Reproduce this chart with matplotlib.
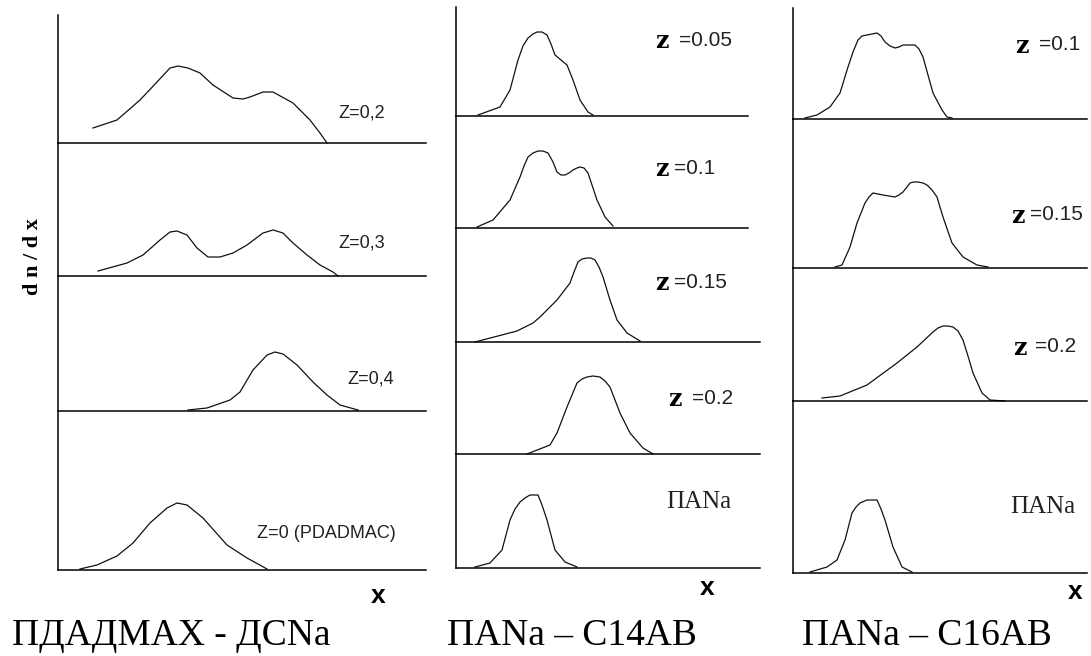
import matplotlib
matplotlib.use("Agg")
import matplotlib.pyplot as plt

plt.rcParams['font.family'] = ['Liberation Sans', 'DejaVu Sans']

W, H = 1091, 656

# --- panel A: ПДАДМАХ - ДСNa (x, dn/dx in a.u.) ---
a_labels = ["Z=0,2", "Z=0,3", "Z=0,4", "Z=0 (PDADMAC)"]
a_z02_x = [35, 59, 82, 99, 112, 120, 130, 142, 155, 175, 185, 192, 205, 215, 235, 252, 262, 269]
a_z02_y = [15, 23, 43, 61, 75, 77, 75, 70, 58, 45, 44, 46, 51, 51, 40, 23, 10, 0]
a_z03_x = [40, 69, 85, 102, 112, 119, 129, 139, 150, 162, 175, 189, 205, 215, 225, 235, 249, 262, 275, 280]
a_z03_y = [5, 13, 21, 36, 44, 45, 41, 28, 19, 19, 23, 31, 43, 46, 43, 33, 21, 11, 4, 0]
a_z04_x = [130, 149, 172, 182, 195, 209, 217, 225, 239, 255, 269, 282, 300]
a_z04_y = [1, 3, 11, 19, 41, 56, 59, 57, 46, 29, 16, 6, 1]
a_z0_x = [22, 39, 59, 75, 92, 109, 119, 129, 145, 169, 189, 209]
a_z0_y = [1, 5, 14, 27, 47, 62, 67, 65, 52, 25, 12, 1]

# --- panel B: ПАNa – C14AB ---
b_labels = ["0.05", "0.1", "0.15", "0.2", "ПАNa"]
b_z005_x = [22, 44, 54, 62, 67, 72, 77, 81, 86, 91, 95, 99, 105, 111, 117, 124, 132, 137]
b_z005_y = [1, 9, 26, 56, 70, 78, 82, 84, 84, 81, 72, 61, 56, 51, 36, 16, 4, 1]
b_z01_x = [21, 37, 54, 64, 68, 72, 77, 82, 87, 92, 97, 101, 105, 109, 113, 117, 121, 124, 128, 132, 141, 149, 157]
b_z01_y = [1, 8, 28, 51, 62, 71, 75, 77, 77, 75, 66, 56, 53, 53, 55, 58, 60, 61, 60, 55, 28, 11, 2]
b_z015_x = [19, 61, 77, 84, 101, 114, 118, 122, 126, 131, 135, 139, 143, 147, 154, 161, 171, 184]
b_z015_y = [0, 11, 19, 25, 42, 59, 70, 80, 83, 84, 84, 82, 75, 65, 42, 22, 9, 1]
b_z02_x = [71, 94, 101, 111, 121, 126, 131, 137, 144, 149, 154, 164, 174, 187, 197]
b_z02_y = [0, 9, 21, 47, 71, 75, 77, 78, 77, 73, 67, 41, 21, 6, 0]
b_pana_x = [19, 34, 46, 54, 59, 64, 69, 74, 82, 86, 91, 99, 109, 121]
b_pana_y = [1, 5, 18, 48, 59, 66, 70, 73, 73, 63, 48, 18, 6, 1]

# --- panel C: ПАNa – C16AB ---
c_labels = ["0.1", "0.15", "0.2", "ПАNa"]
c_z01_x = [12, 24, 37, 47, 55, 60, 65, 69, 74, 79, 84, 88, 92, 97, 102, 106, 110, 116, 122, 126, 130, 140, 149, 154, 159]
c_z01_y = [1, 4, 12, 26, 52, 67, 79, 83, 84, 85, 86, 83, 77, 73, 71, 72, 74, 74, 74, 70, 62, 26, 9, 2, 1]
c_z015_x = [42, 49, 57, 64, 72, 76, 80, 85, 90, 96, 102, 106, 110, 114, 117, 121, 125, 130, 134, 139, 144, 150, 159, 170, 184, 195]
c_z015_y = [1, 3, 21, 45, 65, 71, 75, 74, 73, 72, 71, 73, 76, 81, 85, 86, 86, 85, 83, 78, 71, 51, 25, 11, 3, 1]
c_z02_x = [29, 47, 74, 104, 124, 140, 145, 150, 155, 160, 165, 170, 175, 180, 189, 197, 212]
c_z02_y = [3, 5, 16, 38, 54, 69, 73, 75, 75, 74, 70, 61, 45, 28, 8, 1, 0]
c_pana_x = [17, 34, 44, 52, 59, 63, 67, 74, 84, 88, 92, 100, 109, 119]
c_pana_y = [1, 6, 13, 33, 60, 66, 70, 73, 73, 64, 53, 26, 6, 1]

titles = ["ПДАДМАХ - ДСNa", "ПАNa – С14АВ", "ПАNa – С16АВ"]


def px(x, y):
    return x / W, 1 - y / H


def draw_panel(fig, left, right, top, baselines, curves, line_ends=None):
    """Stack of strips sharing the vertical axis; one curve per strip."""
    edges = [top] + baselines
    axes = []
    for i, (xs, ys) in enumerate(curves):
        t, b = edges[i], edges[i + 1]
        ax = fig.add_axes([left / W, 1 - b / H, (right - left) / W, (b - t) / H])
        ax.set_xlim(0, right - left)
        ax.set_ylim(0, b - t)
        for s in ('top', 'right'):
            ax.spines[s].set_visible(False)
        for s in ('left', 'bottom'):
            ax.spines[s].set_linewidth(1.1)
            ax.spines[s].set_color('black')
        if line_ends and line_ends[i] is not None:
            ax.spines['bottom'].set_bounds(0, line_ends[i] - left)
        ax.set_xticks([])
        ax.set_yticks([])
        ax.patch.set_alpha(0)
        ax.plot(xs, ys, color='#111111', lw=0.9, clip_on=False)
        axes.append(ax)
    return axes


fig = plt.figure(figsize=(W / 100, H / 100), dpi=100)

draw_panel(fig, 58, 426, 15, [143, 276, 411, 570],
           [(a_z02_x, a_z02_y), (a_z03_x, a_z03_y), (a_z04_x, a_z04_y), (a_z0_x, a_z0_y)])
draw_panel(fig, 456, 760, 7, [116, 228, 342, 454, 568],
           [(b_z005_x, b_z005_y), (b_z01_x, b_z01_y), (b_z015_x, b_z015_y),
            (b_z02_x, b_z02_y), (b_pana_x, b_pana_y)],
           line_ends=[748, 748, None, None, None])
draw_panel(fig, 793, 1087, 8, [119, 268, 401, 573],
           [(c_z01_x, c_z01_y), (c_z015_x, c_z015_y), (c_z02_x, c_z02_y), (c_pana_x, c_pana_y)])

# curve labels, panel A
a_pos = [(338, 113), (338, 243), (347, 379), (257, 534)]
for lab, (x, y) in zip(a_labels, a_pos):
    fig.text(*px(x, y), lab, fontsize=13, va='center', ha='left', color='#222222')


def z_label(x, y, val, gap):
    fig.text(*px(x, y + 1), "z", family='DejaVu Serif', weight='bold', fontsize=17,
             va='center', ha='left')
    fig.text(*px(x + gap, y), "=" + val, fontsize=15, va='center', ha='left', color='#222222')


b_pos = [(655, 40, 24), (655, 168, 19), (655, 282, 19), (668, 398, 24)]
for val, (x, y, g) in zip(b_labels[:4], b_pos):
    z_label(x, y, val, g)
fig.text(*px(666, 502), b_labels[4], family=['Liberation Serif'], fontsize=18,
         va='center', ha='left', color='#222222')

c_pos = [(1015, 45, 24), (1011, 215, 19), (1013, 347, 22)]
for val, (x, y, g) in zip(c_labels[:3], c_pos):
    z_label(x, y, val, g)
fig.text(*px(1010, 507), c_labels[3], family=['Liberation Serif'], fontsize=18,
         va='center', ha='left', color='#222222')

# axis labels
fig.text(*px(33, 257), "d n / d x", family='Liberation Serif', weight='bold', fontsize=16,
         rotation=90, va='center', ha='center')
for x, y in [(378, 596), (707, 588), (1075, 592)]:
    fig.text(*px(x, y), "x", fontsize=19, weight='bold', va='center', ha='center')

# panel titles
for t, (x, y) in zip(titles, [(12, 636), (447, 636), (802, 636)]):
    fig.text(*px(x, y), t, family='Liberation Serif', fontsize=27, va='center', ha='left')

fig.savefig("out.png", dpi=100)
